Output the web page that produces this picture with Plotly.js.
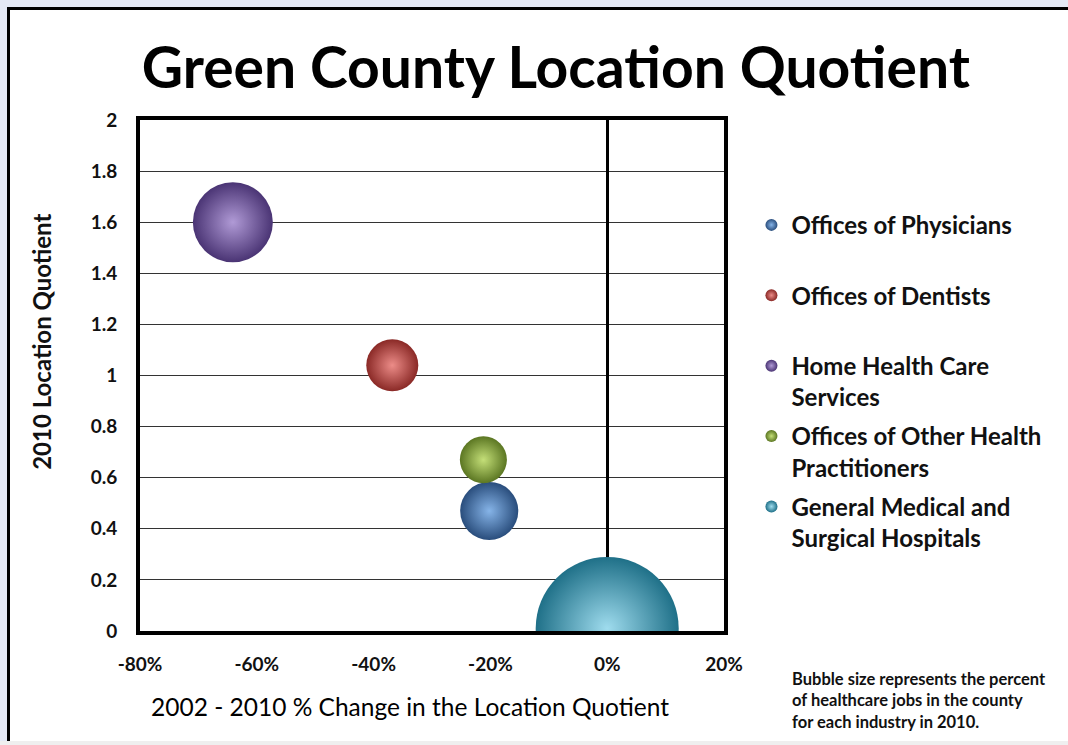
<!DOCTYPE html>
<html>
<head>
<meta charset="utf-8">
<script src="https://cdn.plot.ly/plotly-3.0.1.min.js"></script>
<style>
  html, body { margin: 0; padding: 0; background: #e4e9f5; width: 1068px; height: 745px; overflow: hidden; }
  #frame { position: absolute; left: 7px; top: 7px; width: 1061px; height: 734px; border-left: 3px solid #000; border-top: 3px solid #000; background: #fff; }
  #chart { width: 1058px; height: 731px; }
  #bottomstrip { position: absolute; left: 0; top: 741px; width: 1068px; height: 4px; background: #efefef; }
</style>
</head>
<body>
<div id="frame"><div id="chart"></div></div>
<div id="bottomstrip"></div>
<script>
// ---- data ----
const industries = [
  "Offices of Physicians",
  "Offices of Dentists",
  "Home Health Care Services",
  "Offices of Other Health Practitioners",
  "General Medical and Surgical Hospitals"
];
const legendLabels = [
  "Offices of Physicians<br>&nbsp;",
  "Offices of Dentists<br>&nbsp;",
  "Home Health Care<br>Services",
  "Offices of Other Health<br>Practitioners",
  "General Medical and<br>Surgical Hospitals"
];
const lqChangePct = [-20.2, -36.8, -64.1, -21.2, 0.0];   // 2002-2010 % change in LQ
const lq2010      = [0.47, 1.04, 1.60, 0.67, 0.01];      // 2010 location quotient
const jobSharePct = [9.6, 7.7, 18.2, 6.3, 58.2];         // % of healthcare jobs (bubble size)
const xTickVals = [-80, -60, -40, -20, 0, 20];
const xTickText = ["-80%", "-60%", "-40%", "-20%", "0%", "20%"];
const yTickVals = [0, 0.2, 0.4, 0.6, 0.8, 1, 1.2, 1.4, 1.6, 1.8, 2];
const yTickText = ["0", "0.2", "0.4", "0.6", "0.8", "1", "1.2", "1.4", "1.6", "1.8", "2"];

// ---- styles ----
const edgeColors   = ["#294d7c", "#8a2926", "#4a3474", "#5b7622", "#1f7088"];
const centerColors = ["#86b4e8", "#ec8c88", "#b09ad6", "#c4df78", "#9fdcee"];
const maxDiameter = 143;
const sizeref = 2 * Math.max(...jobSharePct) / (maxDiameter * maxDiameter);
const FONT = "Lato, 'Open Sans', sans-serif";
const pad = n => "&nbsp;".repeat(n);

const traces = industries.map((name, i) => ({
  type: "scatter",
  mode: "markers",
  name: legendLabels[i],
  legendgroup: "g" + i,
  x: [lqChangePct[i]],
  y: [lq2010[i]],
  text: [name],
  hovertemplate: "%{text}<br>%{x}%<br>LQ %{y}<extra></extra>",
  cliponaxis: true,
  marker: {
    size: [jobSharePct[i]],
    sizemode: "area",
    sizeref: sizeref,
    color: edgeColors[i],
    gradient: { type: "radial", color: centerColors[i] },
    line: { width: 0 },
    opacity: 1
  }
}));

const layout = {
  width: 1058,
  height: 731,
  margin: { l: 130, r: 344, t: 110, b: 110 },
  paper_bgcolor: "#ffffff",
  plot_bgcolor: "#ffffff",
  font: { family: FONT, color: "#000" },
  title: {
    text: "<b>Green County Location Quotient</b>",
    font: { family: FONT, size: 57, color: "#000" },
    x: 0.712, xanchor: "center",
    y: 0.92, yanchor: "middle",
    xref: "paper"
  },
  xaxis: {
    range: [-80, 20],
    tickmode: "array",
    tickvals: xTickVals,
    ticktext: xTickText,
    showgrid: false,
    zeroline: true, zerolinecolor: "#000", zerolinewidth: 3,
    showline: true, linecolor: "#000", linewidth: 4, mirror: true,
    ticks: "", ticklabelstandoff: 13,
    tickfont: { family: FONT, size: 19, color: "#111", weight: "bold" },
    title: { text: "2002 - 2010 % Change in the Location Quotient" + pad(7), font: { family: FONT, size: 24.5, color: "#000" }, standoff: 26 },
    fixedrange: true
  },
  yaxis: {
    range: [0, 2],
    tickmode: "array",
    tickvals: yTickVals,
    ticktext: yTickText,
    showgrid: true, gridcolor: "#333", gridwidth: 1,
    zeroline: false,
    showline: true, linecolor: "#000", linewidth: 4, mirror: true,
    ticks: "", ticklabelstandoff: 15,
    tickfont: { family: FONT, size: 19, color: "#111", weight: "bold" },
    title: { text: pad(11) + "<b>2010 Location Quotient</b>", font: { family: FONT, size: 24, color: "#111" }, standoff: 33 },
    fixedrange: true
  },
  showlegend: true,
  legend: {
    x: 1.047, xanchor: "left",
    y: 0.838, yanchor: "top",
    traceorder: "grouped",
    tracegroupgap: 5,
    valign: "top",
    itemsizing: "constant",
    font: { family: FONT, size: 24, color: "#111", weight: "bold" },
    bgcolor: "rgba(0,0,0,0)",
    borderwidth: 0
  },
  annotations: [{
    xref: "paper", yref: "paper",
    x: 1.113, y: -0.07, xanchor: "left", yanchor: "top", align: "left",
    showarrow: false,
    text: "<b>Bubble size represents the percent<br>of healthcare jobs in the county<br>for each industry in 2010.</b>",
    font: { family: FONT, size: 16.5, color: "#111" }
  }]
};

Plotly.newPlot("chart", traces, layout, { displayModeBar: false });
</script>
</body>
</html>
